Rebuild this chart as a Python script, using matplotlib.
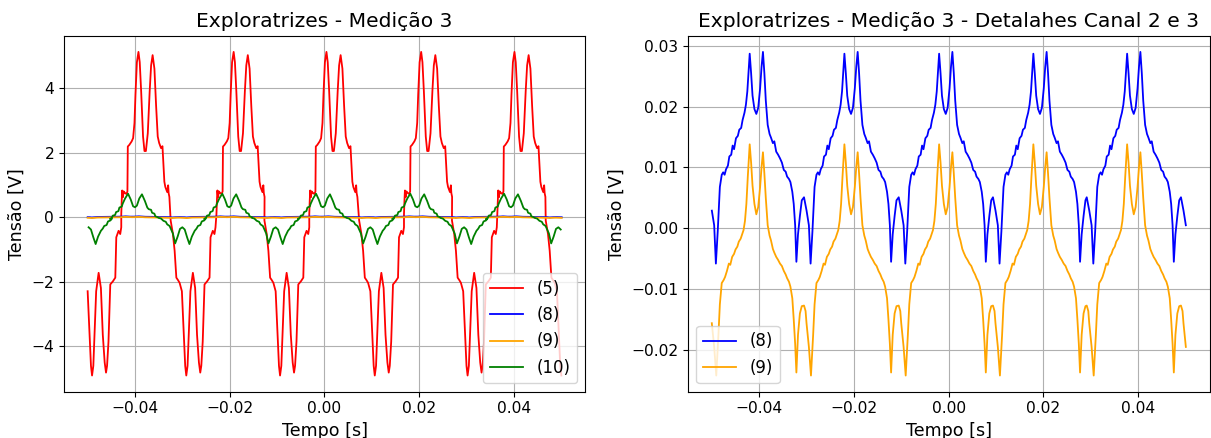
import numpy as np
import matplotlib
matplotlib.use("Agg")
import matplotlib.pyplot as plt

T_MIN, T_MAX = -0.0501, 0.0501

# ----------------------------------
# Channel (5): one positive and one negative hump
# offsets [s] from the hump centre, values [V]
# ----------------------------------

ch5_pos_dt = [-0.0051, -0.0050, -0.0049, -0.00475, -0.0046, -0.0043, -0.0040, -0.0038,
              -0.00372, -0.0034, -0.0029, -0.0026, -0.00231, -0.0021, -0.0018, -0.00147,
              -0.0012, -0.0009, -0.0005, -0.0002, 0.0001, 0.0005, 0.0009, 0.0012,
              0.00152, 0.0019, 0.00226, 0.0026, 0.0029, 0.0033, 0.0036, 0.0040,
              0.0042, 0.0046, 0.0048, 0.0049, 0.00506]
ch5_pos_v = [0.10, 0.52, 0.83, 0.62, 0.80, 0.75, 0.72, 0.80,
             2.19, 2.24, 2.35, 2.45, 2.92, 3.80, 4.80, 5.12,
             4.80, 3.90, 2.50, 2.05, 2.05, 2.60, 3.90, 4.70,
             5.02, 4.60, 3.44, 2.50, 2.30, 2.14, 2.20, 1.10,
             0.94, 0.78, 0.99, 0.75, 0.63]

ch5_neg_dt = [-0.00477, -0.00429, -0.00393, -0.00357, -0.0032, -0.00288, -0.0024, -0.0020,
              -0.0017, -0.00147, -0.0012, -0.0010, -0.0006, -0.00008, 0.0004, 0.0008,
              0.0012, 0.00148, 0.0017, 0.0020, 0.00238, 0.00295, 0.00344, 0.00365,
              0.00413, 0.00448, 0.0047]
ch5_neg_v = [-0.10, -0.52, -1.04, -1.87, -1.95, -2.03, -2.29, -3.64,
             -4.60, -4.90, -4.60, -3.85, -2.29, -1.72, -2.19, -3.64,
             -4.50, -4.81, -4.60, -3.85, -2.08, -1.98, -1.87, -0.62,
             -0.42, -0.52, -0.31]

ch5_pos_centres = [-0.0378, -0.0177, 0.0019, 0.0219, 0.0416]
ch5_neg_centres = [-0.0476, -0.0277, -0.0079, 0.0121, 0.0317, 0.0515]

# ----------------------------------
# Channel (10)
# ----------------------------------

ch10_pos_dt = [-0.0053, -0.0049, -0.0047, -0.0042, -0.0040, -0.0035, -0.0033, -0.0028,
               -0.0026, -0.0021, -0.00147, -0.0009, -0.0004, 0.0, 0.0004, 0.0009,
               0.00147, 0.0021, 0.0026, 0.0029, 0.0034, 0.0036, 0.0041, 0.0043, 0.0048]
ch10_pos_v = [-0.05, -0.02, 0.05, 0.07, 0.16, 0.19, 0.30, 0.33,
              0.42, 0.58, 0.73, 0.55, 0.34, 0.31, 0.36, 0.58,
              0.71, 0.50, 0.30, 0.25, 0.23, 0.14, 0.11, 0.03, 0.0]

ch10_neg_dt = [-0.0050, -0.0045, -0.0040, -0.0035, -0.0032, -0.0027, -0.0024, -0.0020,
               -0.00152, -0.0010, -0.0005, 0.0, 0.0005, 0.0010, 0.00149, 0.0020,
               0.0026, 0.0030, 0.0033, 0.0038, 0.0041, 0.0046, 0.0049]
ch10_neg_v = [-0.02, -0.04, -0.11, -0.14, -0.22, -0.27, -0.37, -0.50,
              -0.81, -0.60, -0.36, -0.31, -0.38, -0.62, -0.83, -0.60,
              -0.42, -0.35, -0.27, -0.24, -0.13, -0.10, -0.05]

ch10_pos_centres = [-0.0400, -0.0201, -0.0003, 0.0196, 0.0394]
ch10_neg_centres = [-0.0498, -0.0300, -0.0103, 0.0097, 0.0295, 0.0494]

# ----------------------------------
# Channels (8) and (9): one period around the double peak
# ----------------------------------

ch8_dt = [-0.00993, -0.00939, -0.0089, -0.00854, -0.00815, -0.00797, -0.0077, -0.0073,
          -0.0070, -0.0067, -0.0064, -0.0060, -0.0057, -0.0053, -0.0050, -0.0047,
          -0.0043, -0.0039, -0.0036, -0.0032, -0.0029, -0.0025, -0.0022, -0.0019,
          -0.0016, -0.0014, -0.0011, -0.0008, -0.0004, 0.0, 0.0004, 0.0008,
          0.0011, 0.0014, 0.0017, 0.0020, 0.0024, 0.0028, 0.0031, 0.0035,
          0.0038, 0.0042, 0.0046, 0.0050, 0.0054, 0.0058, 0.0062, 0.0065,
          0.0069, 0.0072, 0.0076, 0.0079, 0.0082, 0.00846, 0.0088, 0.0092, 0.0096]
ch8_v = [0.0051, 0.0029, 0.0005, -0.0058, -0.0005, 0.0023, 0.0068, 0.0088,
         0.0092, 0.0088, 0.0097, 0.0103, 0.0118, 0.0121, 0.0136, 0.0130,
         0.0148, 0.0152, 0.0162, 0.0165, 0.0178, 0.0190, 0.0203, 0.0225,
         0.0262, 0.0287, 0.0255, 0.0218, 0.0196, 0.0188, 0.0198, 0.0230,
         0.0265, 0.0290, 0.0255, 0.0210, 0.0170, 0.0155, 0.0149, 0.0140,
         0.0143, 0.0126, 0.0121, 0.0115, 0.0108, 0.0096, 0.0093, 0.0085,
         0.0081, 0.0076, 0.0060, 0.0040, 0.0005, -0.0055, -0.0010, 0.0020, 0.0046]

ch9_dt = [-0.00993, -0.0096, -0.0094, -0.0089, -0.00846, -0.0080, -0.0077, -0.0073,
          -0.0069, -0.0066, -0.0062, -0.0058, -0.0055, -0.0051, -0.0047, -0.0044,
          -0.0040, -0.0037, -0.0033, -0.0030, -0.0027, -0.0024, -0.0021, -0.0018,
          -0.0014, -0.0011, -0.0008, -0.0004, 0.0, 0.0004, 0.0008, 0.0011,
          0.0014, 0.0017, 0.0020, 0.0024, 0.0028, 0.0031, 0.0035, 0.0038,
          0.0042, 0.0046, 0.0050, 0.0054, 0.0058, 0.0062, 0.0065, 0.0069,
          0.0072, 0.0076, 0.0079, 0.0082, 0.00846, 0.0088, 0.0092, 0.0096]
ch9_v = [-0.0127, -0.0136, -0.0156, -0.0195, -0.0242, -0.0175, -0.0125, -0.0090,
         -0.0085, -0.0080, -0.0070, -0.0058, -0.0060, -0.0047, -0.0042, -0.0035,
         -0.0030, -0.0022, -0.0017, -0.0010, -0.0003, 0.0012, 0.0040, 0.0085,
         0.0138, 0.0108, 0.0070, 0.0040, 0.0023, 0.0035, 0.0068, 0.0100,
         0.0125, 0.0090, 0.0050, 0.0005, -0.0012, -0.0020, -0.0034, -0.0040,
         -0.0047, -0.0052, -0.0058, -0.0062, -0.0070, -0.0076, -0.0082, -0.0088,
         -0.0096, -0.0115, -0.0150, -0.0190, -0.0237, -0.0175, -0.0140, -0.0128]

ch89_centres = [-0.0406, -0.0206, -0.0006, 0.0193, 0.0391, 0.0590]


def assemble(*groups):
    humps = []
    for centres, dt, v in groups:
        for c in centres:
            humps.append((c, dt, v))
    humps.sort(key=lambda h: h[0])
    t = np.concatenate([c + np.asarray(dt) for c, dt, _ in humps])
    y = np.concatenate([np.asarray(v, dtype=float) for _, _, v in humps])
    keep = (t >= T_MIN) & (t <= T_MAX)
    return t[keep], y[keep]


t5, v5 = assemble((ch5_pos_centres, ch5_pos_dt, ch5_pos_v),
                  (ch5_neg_centres, ch5_neg_dt, ch5_neg_v))
t10, v10 = assemble((ch10_pos_centres, ch10_pos_dt, ch10_pos_v),
                    (ch10_neg_centres, ch10_neg_dt, ch10_neg_v))
t8, v8 = assemble((ch89_centres, ch8_dt, ch8_v))
t9, v9 = assemble((ch89_centres, ch9_dt, ch9_v))

# ----------------------------------
# Plot
# ----------------------------------

TICK_FS = 11.2
LABEL_FS = 12.6
TITLE_FS = 14.6
LW = 1.3

fig, (ax1, ax2) = plt.subplots(1, 2, figsize=(12.11, 4.38), dpi=100)
fig.subplots_adjust(left=0.0528, right=0.9988, bottom=0.1057, top=0.9185, wspace=0.197)

ax1.plot(t5, v5, color="red", lw=LW, label="(5)")
ax1.plot(t8, v8, color="blue", lw=LW, label="(8)")
ax1.plot(t9, v9, color="orange", lw=LW, label="(9)")
ax1.plot(t10, v10, color="green", lw=LW, label="(10)")
ax1.set_title("Exploratrizes - Medição 3", fontsize=TITLE_FS)
ax1.set_xlabel("Tempo [s]", fontsize=LABEL_FS)
ax1.set_ylabel("Tensão [V]", fontsize=LABEL_FS)
ax1.set_yticks([-4, -2, 0, 2, 4])
ax1.legend(loc="lower right", fontsize=12)

ax2.plot(t8, v8, color="blue", lw=LW, label="(8)")
ax2.plot(t9, v9, color="orange", lw=LW, label="(9)")
ax2.set_title("Exploratrizes - Medição 3 - Detalahes Canal 2 e 3", fontsize=TITLE_FS)
ax2.set_xlabel("Tempo [s]", fontsize=LABEL_FS)
ax2.set_ylabel("Tensão [V]", fontsize=LABEL_FS)
ax2.legend(loc="lower left", fontsize=12)

for ax in (ax1, ax2):
    ax.set_xticks([-0.04, -0.02, 0.0, 0.02, 0.04])
    ax.tick_params(labelsize=TICK_FS)
    ax.grid(True)

fig.savefig("out.png", dpi=100)
